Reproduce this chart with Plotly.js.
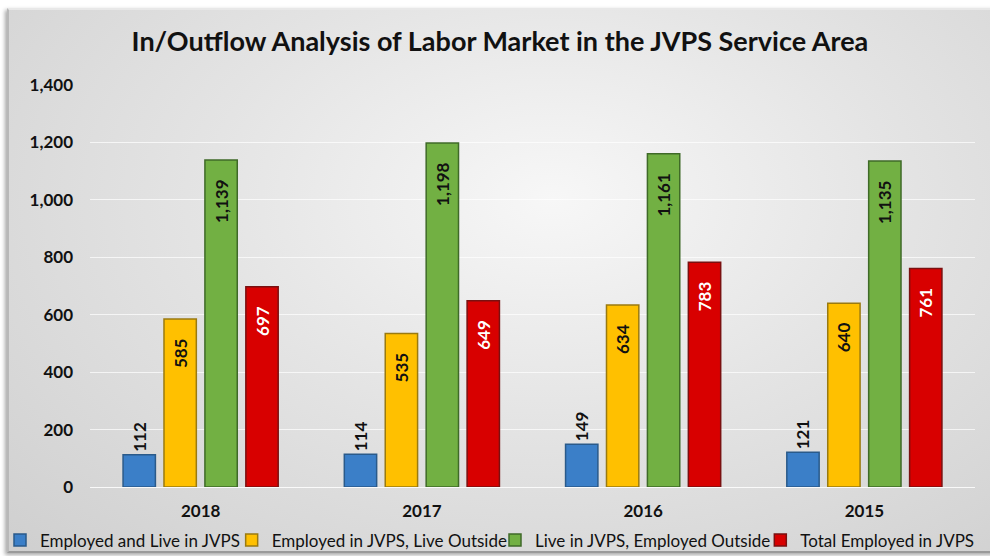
<!DOCTYPE html>
<html>
<head>
<meta charset="utf-8">
<script src="https://cdn.plot.ly/plotly-3.0.1.min.js"></script>
<style>
  html, body { margin:0; padding:0; background:#ffffff; width:990px; height:556px; overflow:hidden; }
  #bg { position:absolute; left:7px; top:8px; width:990px; height:545px;
        background: radial-gradient(ellipse at 55% 35%, #f7f7f7 0%, #e4e4e4 45%, #cfcfcf 100%);
        border-left:2px solid #b8b8b8; border-top:2px solid #e8e8e8; border-bottom:2px solid #9a9a9a;
        box-shadow: -2px 2px 4px rgba(0,0,0,0.35); box-sizing:border-box; }
  #chart { position:absolute; left:0; top:0; width:990px; height:556px; }
</style>
</head>
<body>
<div id="bg"></div>
<div id="chart"></div>
<script>
const years = ["2018", "2017", "2016", "2015"];
const seriesNames = ["Employed and Live in JVPS", "Employed in JVPS, Live Outside", "Live in JVPS, Employed Outside", "Total Employed in JVPS"];
const employedAndLive = [112, 114, 149, 121];
const employedLiveOutside = [585, 535, 634, 640];
const liveEmployedOutside = [1139, 1198, 1161, 1135];
const totalEmployed = [697, 649, 783, 761];
const yTicks = [0, 200, 400, 600, 800, 1000, 1200, 1400];

const FONT = "Lato, 'Open Sans', sans-serif";
const colors = ["#3b7fc8", "#ffc000", "#72b043", "#d80000"];
const lineColors = ["#2a5a8a", "#9a7a10", "#3f6a28", "#7a1010"];
const textColors = ["#111111", "#111111", "#111111", "#ffffff"];
const values = [employedAndLive, employedLiveOutside, liveEmployedOutside, totalEmployed];
const legendIds = ["legend", "legend2", "legend3", "legend4"];
const legendX = [-0.006, 0.234, 0.5, 0.768];

const traces = values.map((v, i) => ({
  type: "bar",
  name: seriesNames[i],
  legend: legendIds[i],
  x: years,
  y: v,
  texttemplate: i === 0 ? "%{y:,}" : "%{y:,}\u00a0\u00a0\u00a0\u00a0",
  textposition: i === 0 ? "outside" : "inside",
  insidetextanchor: "end",
  textangle: -90,
  constraintext: "none",
  cliponaxis: false,
  textfont: { family: FONT, size: 17, color: textColors[i], weight: "bold" },
  insidetextfont: { family: FONT, size: 17, color: textColors[i], weight: "bold" },
  outsidetextfont: { family: FONT, size: 17, color: "#111111", weight: "bold" },
  marker: { color: colors[i], line: { color: lineColors[i], width: 1.5 } },
  hoverinfo: "x+y+name"
}));

const layout = {
  width: 990, height: 556,
  paper_bgcolor: "rgba(0,0,0,0)",
  plot_bgcolor: "rgba(0,0,0,0)",
  margin: { l: 90, r: 15, t: 85, b: 69, autoexpand: false },
  title: { text: "<b>In/Outflow Analysis of Labor Market in the JVPS Service Area</b>",
           font: { family: FONT, size: 27, color: "#111111" }, x: 0.505, xanchor: "center", y: 0.925, yanchor: "middle" },
  barmode: "group",
  bargap: 0.26,
  bargroupgap: 0.21,
  xaxis: { type: "category", tickfont: { family: FONT, size: 17, color: "#111111", weight: "bold" },
           showgrid: false, zeroline: false, showline: false, ticks: "", ticklen: 0, ticklabelstandoff: 12 },
  yaxis: { range: [0, 1400], tickvals: yTicks, tickformat: ",", separatethousands: true,
           tickfont: { family: FONT, size: 17, color: "#111111", weight: "bold" },
           showgrid: true, gridcolor: "rgba(255,255,255,0.7)", gridwidth: 1,
           zeroline: true, zerolinecolor: "rgba(255,255,255,0.85)", showline: false, ticks: "", ticklabelstandoff: 16 },
  showlegend: true
};
legendIds.forEach((id, i) => {
  layout[id] = { orientation: "h", xref: "container", yref: "container", x: legendX[i], xanchor: "left",
                 y: 0.028, yanchor: "middle", font: { family: FONT, size: 17, color: "#111111" },
                 itemwidth: 30, bgcolor: "rgba(0,0,0,0)" };
});

Plotly.newPlot("chart", traces, layout, { displayModeBar: false, staticPlot: true });
</script>
</body>
</html>
